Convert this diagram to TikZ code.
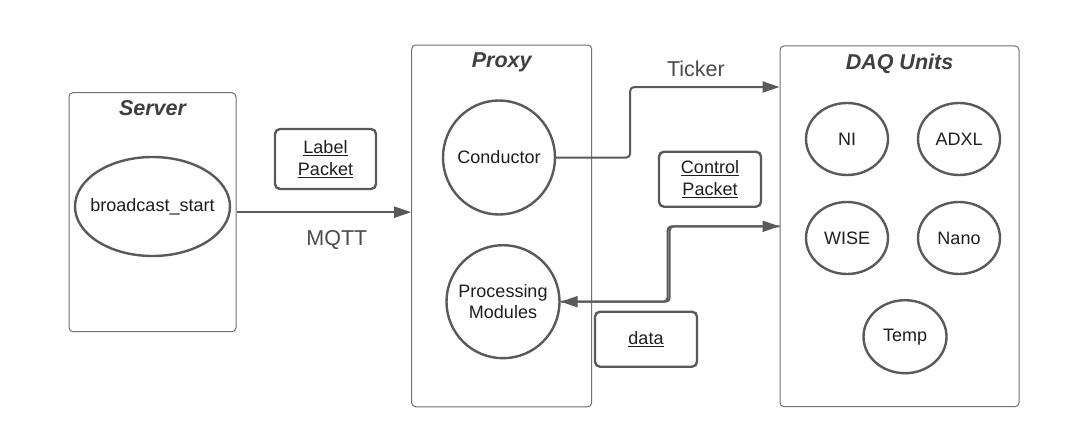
\documentclass[tikz,border=0pt]{standalone}
\usepackage{fontspec}
\setmainfont{Liberation Sans}
\usetikzlibrary{shapes.geometric}
\usetikzlibrary{arrows.meta}
\usetikzlibrary{positioning}
\definecolor{linegray}{HTML}{5A5A5A}
\definecolor{boxgray}{HTML}{707070}
\definecolor{textdark}{HTML}{1E1E1E}
\begin{document}
\begin{tikzpicture}[x=1pt,y=-1pt,
  group/.style={draw=boxgray, line width=1pt, rounded corners=4pt},
  title/.style={inner sep=0pt, text=textdark!85, font=\fontsize{21.5}{24}\selectfont\bfseries\itshape},
  unit/.style={ellipse, draw=linegray, line width=2.4pt, inner sep=0pt, inner xsep=-10pt, text=textdark,
    font=\fontsize{18}{21}\selectfont, align=center},
  packet/.style={draw=linegray, line width=2.4pt, rounded corners=5pt, inner sep=0pt,
    text=textdark, font=\fontsize{18}{22}\selectfont, align=center},
  flow/.style={draw=linegray, line width=2pt, rounded corners=4pt,
    -{Triangle[length=17pt,width=11pt]}},
  lbl/.style={text=textdark!80, font=\fontsize{21.5}{24}\selectfont}]
\useasboundingbox[fill=white] (0,0) rectangle (1089,447);
\node[group, minimum width=167pt, minimum height=239pt] (server) at (152.5,212.2) {};
\node[group, minimum width=180pt, minimum height=361.7pt] (proxy) at (501.7,225.9) {};
\node[group, minimum width=239pt, minimum height=360.7pt] (daq) at (899.5,226.3) {};
\node[title, below=8pt of server.north] (servert) {Server};
\node[title, below=8pt of proxy.north] (proxyt) {Proxy};
\node[title, below=8pt of daq.north] (daqt) {DAQ Units};
\node[unit, minimum width=155pt, minimum height=99pt] (bstart) at (152.5,206.5) {broadcast\_start};
\node[unit, minimum width=112pt, minimum height=114pt] (cond) at (499,157.5) {Conductor};
\node[unit, minimum width=113pt, minimum height=113pt] (proc) at (503,301.7) {Processing\\Modules};
\node[unit, minimum width=82pt, minimum height=72pt] (ni) at (847,139) {NI};
\node[unit, minimum width=82pt, minimum height=72pt] (adxl) at (959,139) {ADXL};
\node[unit, minimum width=82pt, minimum height=72pt] (wise) at (847,238) {WISE};
\node[unit, minimum width=82pt, minimum height=72pt] (nano) at (959,238) {Nano};
\node[unit, minimum width=83pt, minimum height=73pt] (temp) at (905,336.7) {Temp};
\node[packet, minimum width=101pt, minimum height=60pt] (labelp) at (325.5,159) {\underline{Label}\\\underline{Packet}};
\node[packet, minimum width=102pt, minimum height=55pt] (controlp) at (710,179.2) {\underline{Control}\\\underline{Packet}};
\node[packet, minimum width=102pt, minimum height=55pt] (datap) at (646,339.2) {\underline{data}};
\draw[flow] (server.east) -- (proxy.west |- server.east) node[lbl, midway, below=14pt, xshift=13pt] (mqtt) {MQTT};
\draw[flow] (cond.east) -- ++(74,0) |- (daq.west |- 0,87) node[lbl, pos=0.72, above=6pt] (ticker) {Ticker};
\draw[flow] (daq.west) -- ++(-112,0) |- (proc.east);
\draw[flow] (proc.east) -- ++(109,0) |- (daq.west);
\end{tikzpicture}
\end{document}
